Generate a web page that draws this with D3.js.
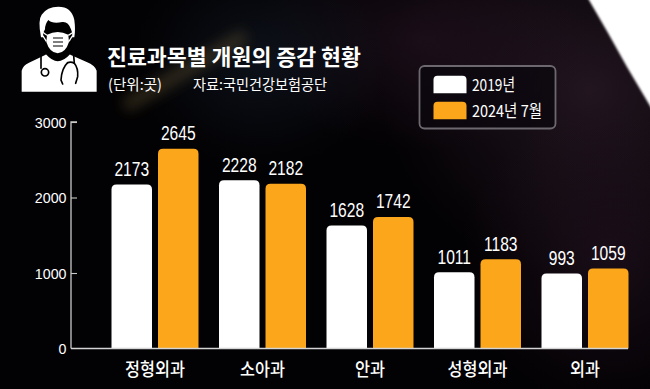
<!DOCTYPE html>
<html><head><meta charset="utf-8">
<script src="https://cdn.jsdelivr.net/npm/d3@7"></script>
<style>html,body{margin:0;padding:0;background:#000}svg{display:block}
text{fill:#fff}
.ko{font-family:"Noto Sans CJK KR","Noto Sans",sans-serif}
.num{font-family:"Liberation Sans",Arial,sans-serif}</style></head><body>
<script>
const categories = ["정형외과","소아과","안과","성형외과","외과"];
const seriesNames = ["2019년","2024년 7월"];
const values2019 = [2173,2228,1628,1011,993];
const values2024 = [2645,2182,1742,1183,1059];
const yTicks = [0,1000,2000,3000];
const colors = ["#ffffff","#fba61b"];

const W=650,H=389;
const svg=d3.select("body").append("svg").attr("width",W).attr("height",H);
const defs=svg.append("defs");
function glow(id,color,op){const g=defs.append("radialGradient").attr("id",id);
  g.append("stop").attr("offset","0%").attr("stop-color",color).attr("stop-opacity",op);
  g.append("stop").attr("offset","100%").attr("stop-color",color).attr("stop-opacity",0);}
glow("gPurple","#33202f",0.65);glow("gBlue","#16202e",0.5);glow("gPurple2","#2a1626",0.55);
defs.append("filter").attr("id","b8").attr("x","-50%").attr("y","-200%").attr("width","200%").attr("height","500%")
  .append("feGaussianBlur").attr("stdDeviation",7);
defs.append("filter").attr("id","b1").attr("x","-20%").attr("y","-20%").attr("width","140%").attr("height","140%")
  .append("feGaussianBlur").attr("stdDeviation",0.8);

// background
const bg=svg.append("g");
bg.append("rect").attr("width",W).attr("height",H).attr("fill","#020103");
bg.append("ellipse").attr("cx",590).attr("cy",90).attr("rx",210).attr("ry",190).attr("fill","url(#gPurple)");
bg.append("ellipse").attr("cx",610).attr("cy",260).attr("rx",150).attr("ry",150).attr("fill","url(#gPurple2)");
bg.append("ellipse").attr("cx",420).attr("cy",40).attr("rx",170).attr("ry",110).attr("fill","url(#gPurple2)");
bg.append("ellipse").attr("cx",260).attr("cy",60).attr("rx",130).attr("ry",110).attr("fill","url(#gBlue)");
bg.append("line").attr("x1",125).attr("y1",106).attr("x2",245).attr("y2",36)
  .attr("stroke","#6b5a34").attr("stroke-width",13).attr("stroke-opacity",0.45).attr("filter","url(#b8)");
bg.append("path").attr("d","M582,-12 L608,33 L627,67 L656,116 L680,116 L680,-12Z").attr("fill","#fff").attr("filter","url(#b1)");

// icon
const ic=svg.append("g").attr("transform","translate(15,0) scale(0.3333)");
ic.append("path").attr("fill","#fff").attr("d","M20,275 L20,212 Q24,196 42,188 L92,164 L100,150 L158,150 L166,164 L215,186 Q240,196 245,212 L245,275Z");
ic.append("path").attr("fill","#fff").attr("d","M78,112 Q68,60 80,44 Q96,20 130,20 Q170,20 178,60 Q182,90 178,112Z");
ic.append("path").attr("fill","#000").attr("d","M92,162 Q112,184 128,184 Q146,184 166,162 L172,100 L168,88 Q160,64 142,66 Q112,72 100,60 Q90,72 90,88 L84,100Z");
ic.append("path").attr("fill","#fff").attr("d","M96,104 Q128,88 160,104 L162,126 Q152,158 128,160 Q104,158 94,126Z");
ic.append("path").attr("d","M96,106 L82,96 M160,106 L176,96 M94,124 L84,108 M162,124 L172,108").attr("stroke","#fff").attr("stroke-width",4).attr("fill","none");
ic.append("path").attr("d","M114,114 H144 M114,126 H144 M114,138 H144").attr("stroke","#000").attr("stroke-width",3.5).attr("fill","none");
const st=ic.append("g").attr("fill","none").attr("stroke","#000").attr("stroke-width",5).attr("stroke-linecap","round");
st.append("path").attr("d","M78,166 L78,205");
st.append("circle").attr("cx",90).attr("cy",217).attr("r",11);
st.append("path").attr("d","M176,166 L178,190 Q190,204 188,230 L182,250");
st.append("path").attr("d","M158,188 Q140,205 138,240 L143,252");
st.append("path").attr("d","M178,190 Q168,184 158,188");

// title
svg.append("text").attr("class","ko").attr("x",107).attr("y",65).attr("font-size",21.5).attr("font-weight",700)
  .attr("textLength",254).attr("lengthAdjust","spacingAndGlyphs").text("진료과목별 개원의 증감 현황");
svg.append("text").attr("class","ko").attr("x",108).attr("y",90).attr("font-size",15)
  .attr("textLength",54).attr("lengthAdjust","spacingAndGlyphs").text("(단위:곳)");
svg.append("text").attr("class","ko").attr("x",193).attr("y",90).attr("font-size",15)
  .attr("textLength",134).attr("lengthAdjust","spacingAndGlyphs").text("자료:국민건강보험공단");

// scales
const y=d3.scaleLinear().domain([0,3000]).range([348.5,122]);
const x0=d3.scaleBand().domain(categories).range([104.5,642]).padding(0);
const x1=d3.scaleBand().domain([0,1]).range([7,94]).paddingInner(0.129).paddingOuter(0);
const barW=x1.bandwidth();

function topRounded(x,yy,w,h,r){
  return `M${x},${yy+h}V${yy+r}Q${x},${yy} ${x+r},${yy}H${x+w-r}Q${x+w},${yy} ${x+w},${yy+r}V${yy+h}Z`;
}
function condensed(sel,cx,yy,size,sx,txt){
  sel.append("text").attr("class","num").attr("text-anchor","middle").attr("font-size",size)
    .attr("transform",`translate(${cx},${yy}) scale(${sx},1)`).text(txt);
}

// axes
const axis=svg.append("g").attr("transform","translate(71,0)")
  .call(d3.axisLeft(y).tickValues(yTicks).tickSize(6).tickPadding(3).tickFormat(d3.format("d")));
axis.select(".domain").attr("stroke","#c9c9c9").attr("stroke-width",1.3).attr("d",`M6,${y(3000)}H0V${y(0)}`);
axis.selectAll(".tick line").attr("stroke","#c9c9c9").attr("stroke-width",1.1).attr("x1",0).attr("x2",d=>d===0?0:6);
axis.selectAll(".tick text").remove();
yTicks.forEach(t=>{svg.append("text").attr("class","num").attr("text-anchor","end").attr("font-size",15)
  .attr("transform",`translate(66.5,${y(t)+5.5}) scale(0.95,1)`).text(t);});

// bars
const data=[values2019,values2024];
const groups=svg.append("g").selectAll("g").data(categories).join("g")
  .attr("transform",d=>`translate(${x0(d)},0)`);
groups.each(function(cat,i){
  const g=d3.select(this);
  [0,1].forEach(s=>{
    const v=data[s][i],bx=x1(s);
    g.append("path").attr("fill",colors[s])
      .attr("d",topRounded(bx,y(v),barW,y(0)-y(v),5));
    condensed(g,bx+barW/2,y(v)-8.5,19.5,0.8,v);
  });
  g.append("text").attr("class","ko").attr("text-anchor","middle").attr("font-size",18.5).attr("font-weight",500)
    .attr("transform",`translate(${(x1(0)+x1(1)+barW)/2},375.5) scale(0.88,1)`)
    .text(cat);
});
svg.append("line").attr("x1",71).attr("x2",628).attr("y1",y(0)).attr("y2",y(0))
  .attr("stroke","#d4d4d4").attr("stroke-width",1.3);

// legend
const lg=svg.append("g");
lg.append("rect").attr("x",419.5).attr("y",66).attr("width",136).attr("height",62.5).attr("rx",5)
  .attr("fill","#0b070d").attr("fill-opacity",0.75).attr("stroke","#6d6870").attr("stroke-width",1.8);
seriesNames.forEach((n,i)=>{
  const yy=75.7+i*26;
  lg.append("path").attr("fill",colors[i]).attr("d",topRounded(433.5,yy,33,17.5,4));
  lg.append("text").attr("class","ko").attr("x",472).attr("y",yy+15).attr("font-size",16.5)
    .attr("textLength",i===0?43:70).attr("lengthAdjust","spacingAndGlyphs").text(n);
});
</script></body></html>
